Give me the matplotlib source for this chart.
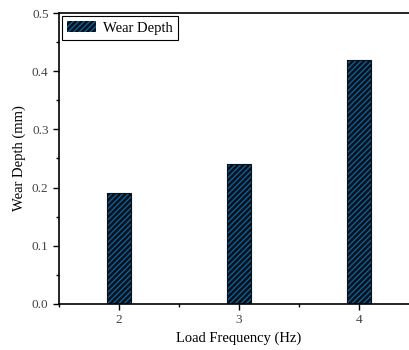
import matplotlib
matplotlib.use("Agg")
import matplotlib.pyplot as plt
from matplotlib.ticker import MultipleLocator

freq = [2, 3, 4]
depth = [0.19, 0.24, 0.42]
xticks = [2, 3, 4]
yticks = [0.0, 0.1, 0.2, 0.3, 0.4, 0.5]

plt.rcParams['font.family'] = ['Liberation Serif', 'DejaVu Serif']
plt.rcParams['hatch.linewidth'] = 0.9

fig = plt.figure(figsize=(4.1, 3.5), dpi=100)
ax = fig.add_axes([59/410, 46/350, 360/410, 291/350])

ax.bar(freq, depth, width=0.2, facecolor='#07121c', edgecolor='#0f65a0',
       hatch='//////', linewidth=0, label='Wear Depth', zorder=2)
ax.bar(freq, depth, width=0.2, facecolor='none', edgecolor='#07121c',
       linewidth=0.8, zorder=3)

ax.set_xlim(1.5, 4.5)
ax.set_ylim(0, 0.5)
ax.set_xticks(xticks)
ax.set_yticks(yticks)
ax.set_yticklabels([f"{v:.1f}" for v in yticks])
ax.xaxis.set_minor_locator(MultipleLocator(0.5))
ax.yaxis.set_minor_locator(MultipleLocator(0.05))
ax.tick_params(which='major', direction='out', length=4, width=1, labelsize=9.5, labelcolor='#444444')
ax.tick_params(which='minor', direction='out', length=2.5, width=1)
for s in ax.spines.values():
    s.set_linewidth(1.2)

ax.set_xlabel('Load Frequency (Hz)', fontsize=10.5)
ax.set_ylabel('Wear Depth (mm)', fontsize=10.5)

leg = ax.legend(loc='upper left', fancybox=False, edgecolor='black', fontsize=10.5,
                handlelength=2.0, handleheight=0.8, borderpad=0.35, handletextpad=0.5,
                bbox_to_anchor=(0.0, 1.0), borderaxespad=0.2, framealpha=1)
leg.get_frame().set_linewidth(0.8)

fig.savefig('out.png', dpi=100)
